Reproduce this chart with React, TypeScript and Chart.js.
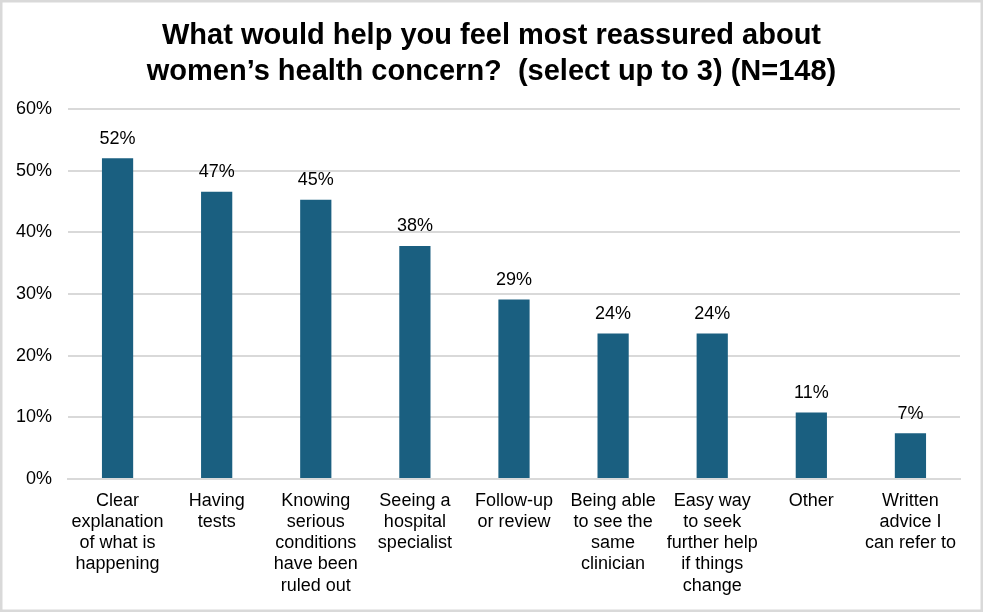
import React, { useEffect, useRef } from "react";
import { Chart, registerables } from "chart.js";

Chart.register(...registerables);

const titleLines = [
  "What would help you feel most reassured about",
  "women\u2019s health concern?  (select up to 3) (N=148)",
];

const categories: string[][] = [
  ["Clear", "explanation", "of what is", "happening"],
  ["Having", "tests"],
  ["Knowing", "serious", "conditions", "have been", "ruled out"],
  ["Seeing a", "hospital", "specialist"],
  ["Follow-up", "or review"],
  ["Being able", "to see the", "same", "clinician"],
  ["Easy way", "to seek", "further help", "if things", "change"],
  ["Other"],
  ["Written", "advice I", "can refer to"],
];

const shares = [52.0, 46.6, 45.3, 37.8, 29.1, 23.6, 23.6, 10.8, 7.4];

const yTicks = [0, 10, 20, 30, 40, 50, 60];

const FONT = "'Liberation Sans', Arial, sans-serif";
const BAR = "#1a5f80";
const GRID = "#d9d9d9";
const TEXT = "#000000";

const framePlugin = {
  id: "frame",
  beforeDraw(chart: Chart) {
    const { ctx, width, height } = chart;
    ctx.save();
    ctx.fillStyle = "#ffffff";
    ctx.fillRect(0, 0, width, height);
    ctx.strokeStyle = GRID;
    ctx.lineWidth = 2.5;
    ctx.strokeRect(1.25, 1.25, width - 2.5, height - 2.5);
    ctx.fillStyle = TEXT;
    ctx.font = `bold 29px ${FONT}`;
    ctx.textAlign = "center";
    ctx.textBaseline = "alphabetic";
    titleLines.forEach((line, i) => {
      ctx.fillText(line, width / 2, 44 + i * 35.5);
    });
    ctx.restore();
  },
};

const valueLabelPlugin = {
  id: "valueLabels",
  afterDatasetsDraw(chart: Chart) {
    const { ctx } = chart;
    const meta = chart.getDatasetMeta(0);
    ctx.save();
    ctx.fillStyle = TEXT;
    ctx.font = `18px ${FONT}`;
    ctx.textAlign = "center";
    ctx.textBaseline = "middle";
    meta.data.forEach((bar: any, i: number) => {
      const v = shares[i];
      ctx.fillText(`${Math.round(v)}%`, bar.x, bar.y - 19.5);
    });
    ctx.restore();
  },
};

export default function App() {
  const canvasRef = useRef<HTMLCanvasElement | null>(null);

  useEffect(() => {
    if (!canvasRef.current) return;
    const chart = new Chart(canvasRef.current, {
      type: "bar",
      data: {
        labels: categories,
        datasets: [
          {
            data: shares,
            backgroundColor: BAR,
            borderWidth: 0,
            barPercentage: 0.315,
            categoryPercentage: 1,
          },
        ],
      },
      options: {
        animation: false,
        responsive: false,
        devicePixelRatio: 1,
        layout: { padding: { top: 109, left: 0, right: 23, bottom: 0 } },
        plugins: {
          legend: { display: false },
          title: { display: false },
          tooltip: { enabled: false },
        },
        scales: {
          x: {
            afterFit(scale: any) {
              scale.height = 133;
            },
            grid: { display: false, drawTicks: false },
            border: { display: true, color: GRID, width: 2 },
            ticks: {
              color: TEXT,
              font: { family: FONT, size: 18, lineHeight: 1.18 },
              padding: 11,
              maxRotation: 0,
              autoSkip: false,
            },
          },
          y: {
            min: 0,
            max: 60,
            afterFit(scale: any) {
              scale.width = 68;
            },
            afterBuildTicks(scale: any) {
              scale.ticks = yTicks.map((v) => ({ value: v }));
            },
            grid: { color: GRID, lineWidth: 2, drawTicks: false },
            border: { display: false },
            ticks: {
              color: TEXT,
              font: { family: FONT, size: 18 },
              padding: 16,
              callback: (v: any) => `${v}%`,
            },
          },
        },
      },
      plugins: [framePlugin, valueLabelPlugin],
    });
    return () => chart.destroy();
  }, []);

  return (
    <div style={{ position: "fixed", left: 0, top: 0, width: 983, height: 612 }}>
      <canvas ref={canvasRef} width={983} height={612} style={{ display: "block" }} />
    </div>
  );
}
